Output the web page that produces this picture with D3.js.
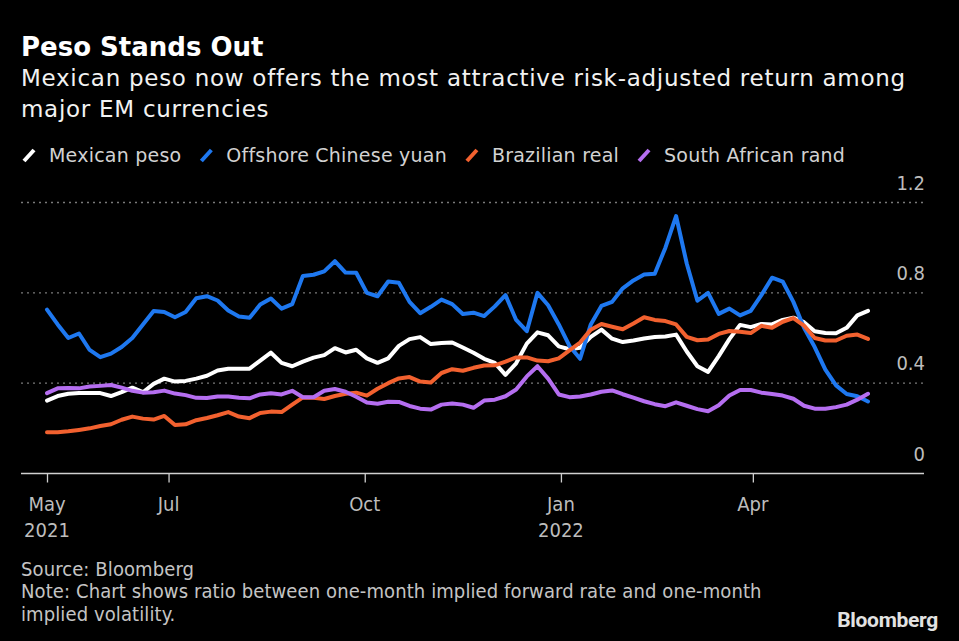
<!DOCTYPE html>
<html><head><meta charset="utf-8">
<script src="https://cdn.jsdelivr.net/npm/d3@7"></script>
<style>
html,body{margin:0;padding:0;background:#000;}
svg{display:block;}
.cond{font-family:"DejaVu Sans Condensed","DejaVu Sans",sans-serif;font-stretch:condensed;}
</style></head><body>
<svg id="chart" width="959" height="641"></svg>
<script>
const dates = ["2021-05-05","2021-05-10","2021-05-15","2021-05-20","2021-05-25","2021-05-30","2021-06-04","2021-06-09","2021-06-14","2021-06-19","2021-06-24","2021-06-29","2021-07-04","2021-07-09","2021-07-14","2021-07-19","2021-07-24","2021-07-29","2021-08-03","2021-08-08","2021-08-13","2021-08-18","2021-08-23","2021-08-28","2021-09-02","2021-09-07","2021-09-12","2021-09-17","2021-09-22","2021-09-27","2021-10-02","2021-10-07","2021-10-12","2021-10-17","2021-10-22","2021-10-27","2021-11-01","2021-11-06","2021-11-11","2021-11-16","2021-11-21","2021-11-26","2021-12-01","2021-12-06","2021-12-11","2021-12-16","2021-12-21","2021-12-26","2021-12-31","2022-01-05","2022-01-10","2022-01-15","2022-01-20","2022-01-25","2022-01-30","2022-02-04","2022-02-09","2022-02-14","2022-02-19","2022-02-24","2022-03-01","2022-03-06","2022-03-11","2022-03-16","2022-03-21","2022-03-26","2022-03-31","2022-04-05","2022-04-10","2022-04-15","2022-04-20","2022-04-25","2022-04-30","2022-05-05","2022-05-10","2022-05-15","2022-05-20","2022-05-25"];

const mexicanPeso = [0.323,0.343,0.353,0.356,0.356,0.356,0.343,0.36,0.38,0.36,
 0.397,0.42,0.407,0.41,0.42,0.433,0.456,0.464,0.464,0.464,
 0.50,0.535,0.49,0.475,0.495,0.513,0.524,0.555,0.536,0.548,
 0.51,0.49,0.51,0.565,0.595,0.604,0.573,0.578,0.58,0.558,
 0.535,0.508,0.49,0.437,0.488,0.575,0.625,0.612,0.563,0.55,
 0.557,0.605,0.637,0.597,0.582,0.589,0.598,0.604,0.607,0.615,
 0.54,0.475,0.45,0.52,0.595,0.658,0.648,0.662,0.66,0.68,
 0.69,0.67,0.63,0.622,0.621,0.645,0.70,0.72];

const offshoreChineseYuan = [0.726,0.66,0.60,0.62,0.547,0.515,0.531,0.56,0.60,0.66,
 0.72,0.715,0.692,0.715,0.776,0.785,0.766,0.722,0.695,0.69,
 0.748,0.775,0.73,0.75,0.875,0.88,0.895,0.94,0.89,0.889,
 0.80,0.785,0.85,0.845,0.76,0.71,0.738,0.77,0.75,0.706,
 0.712,0.697,0.74,0.79,0.68,0.63,0.80,0.745,0.66,0.565,
 0.508,0.66,0.742,0.76,0.82,0.855,0.881,0.885,1.00,1.14,
 0.93,0.765,0.80,0.707,0.73,0.70,0.72,0.79,0.867,0.85,
 0.76,0.645,0.56,0.46,0.39,0.352,0.342,0.319];

const brazilianReal = [0.183,0.183,0.187,0.193,0.200,0.210,0.218,0.238,0.252,0.243,
 0.239,0.255,0.215,0.218,0.236,0.246,0.258,0.272,0.252,0.245,
 0.268,0.274,0.272,0.305,0.337,0.335,0.33,0.343,0.353,0.358,
 0.345,0.375,0.40,0.421,0.427,0.407,0.403,0.445,0.462,0.455,
 0.468,0.478,0.479,0.495,0.514,0.514,0.50,0.497,0.51,0.545,
 0.58,0.637,0.662,0.65,0.639,0.664,0.692,0.68,0.675,0.66,
 0.605,0.59,0.593,0.618,0.631,0.628,0.622,0.654,0.645,0.672,
 0.688,0.655,0.60,0.589,0.589,0.61,0.615,0.596];

const southAfricanRand = [0.356,0.377,0.379,0.377,0.385,0.388,0.392,0.38,0.366,0.358,
 0.36,0.367,0.354,0.347,0.335,0.334,0.341,0.341,0.335,0.333,
 0.35,0.355,0.35,0.366,0.338,0.338,0.366,0.374,0.362,0.34,
 0.314,0.309,0.318,0.317,0.299,0.287,0.283,0.305,0.31,0.305,
 0.291,0.323,0.327,0.342,0.372,0.43,0.475,0.42,0.35,0.338,
 0.341,0.35,0.362,0.368,0.351,0.336,0.32,0.307,0.298,0.315,
 0.30,0.285,0.276,0.302,0.345,0.37,0.37,0.358,0.352,0.345,
 0.331,0.30,0.287,0.287,0.294,0.305,0.327,0.353];

const seriesNames = ["Mexican peso","Offshore Chinese yuan","Brazilian real","South African rand"];
const seriesColors = ["#ffffff","#1e78f0","#f2612f","#b56ef0"];
const yTicks = [0, 0.4, 0.8, 1.2];
const yTickLabels = ["0","0.4","0.8","1.2"];
const xTickDates = ["2021-05-05","2021-07-01","2021-10-01","2022-01-01","2022-04-01"];
const xTickMonths = ["May","Jul","Oct","Jan","Apr"];
const xTickYears = ["2021","","","2022",""];

const titleText = "Peso Stands Out";
const subtitleLines = ["Mexican peso now offers the most attractive risk-adjusted return among","major EM currencies"];
const footLines = ["Source: Bloomberg","Note: Chart shows ratio between one-month implied forward rate and one-month","implied volatility."];

const W = 959, H = 641;
const svg = d3.select("#chart");
svg.append("rect").attr("width", W).attr("height", H).attr("fill", "#000");

const parse = d3.utcParse("%Y-%m-%d");
const xDates = dates.map(parse);
const x = d3.scaleUtc().domain([xDates[0], xDates[xDates.length - 1]]).range([47, 868]);
const y = d3.scaleLinear().domain([0, 1.2]).range([473.5, 202.5]);
const plotL = 21, plotR = 924;

// Title + subtitle
svg.append("text").attr("x", 21).attr("y", 56)
  .attr("font-family", "DejaVu Sans, sans-serif").attr("font-weight", "bold")
  .attr("font-size", 26).attr("fill", "#ffffff").text(titleText);
subtitleLines.forEach((t, i) => {
  svg.append("text").attr("x", 21).attr("y", 86 + i * 31)
    .attr("font-family", "DejaVu Sans, sans-serif").attr("font-size", 23)
    .attr("letter-spacing", 0.72)
    .attr("fill", "#f2f2f2").text(t);
});

// Legend
let lx = 22;
seriesNames.forEach((name, i) => {
  const g = svg.append("g");
  g.append("line").attr("x1", lx + 2).attr("y1", 161).attr("x2", lx + 12).attr("y2", 150)
    .attr("stroke", seriesColors[i]).attr("stroke-width", 4);
  const t = g.append("text").attr("x", lx + 27).attr("y", 162)
    .attr("font-family", "DejaVu Sans, sans-serif").attr("font-size", 19)
    .attr("letter-spacing", 0.22)
    .attr("fill", "#d2d2d2").text(name);
  lx = lx + 27 + t.node().getComputedTextLength() + 18;
});

// Gridlines
svg.append("g").selectAll("line").data(yTicks.filter(v => v > 0)).join("line")
  .attr("x1", plotL).attr("x2", plotR)
  .attr("y1", d => y(d)).attr("y2", d => y(d))
  .attr("stroke", "#7a7a7a").attr("stroke-width", 1.3).attr("stroke-dasharray", "2,4");

// Y labels
svg.append("g").selectAll("text").data(yTicks).join("text")
  .attr("class", "cond")
  .attr("x", 925).attr("y", d => y(d) - 13)
  .attr("text-anchor", "end").attr("font-size", 20).attr("fill", "#bdbdbd")
  .text((d, i) => yTickLabels[i]);

// X axis
const tickDates = xTickDates.map(parse);
const xAxis = d3.axisBottom(x).tickValues(tickDates).tickSize(9).tickFormat("");
const axG = svg.append("g").attr("transform", `translate(0,${y(0)})`).call(xAxis);
axG.select(".domain").remove();
axG.selectAll(".tick line").attr("stroke", "#cfcfcf").attr("stroke-width", 1.3);
svg.append("line").attr("x1", plotL).attr("x2", plotR).attr("y1", y(0)).attr("y2", y(0))
  .attr("stroke", "#d0d0d0").attr("stroke-width", 1.5);
tickDates.forEach((d, i) => {
  svg.append("text").attr("class", "cond").attr("x", x(d)).attr("y", 511)
    .attr("text-anchor", "middle").attr("font-size", 20).attr("fill", "#bdbdbd").text(xTickMonths[i]);
  if (xTickYears[i]) {
    svg.append("text").attr("class", "cond").attr("x", x(d)).attr("y", 537)
      .attr("text-anchor", "middle").attr("font-size", 20).attr("fill", "#bdbdbd").text(xTickYears[i]);
  }
});

// Lines
const allSeries = [mexicanPeso, offshoreChineseYuan, brazilianReal, southAfricanRand];
const line = d3.line().x(d => x(d.date)).y(d => y(d.v));
allSeries.forEach((vals, i) => {
  const pts = vals.map((v, j) => ({ date: xDates[j], v }));
  svg.append("path").datum(pts).attr("d", line)
    .attr("fill", "none").attr("stroke", seriesColors[i]).attr("stroke-width", 4)
    .attr("stroke-linejoin", "round").attr("stroke-linecap", "round");
});

// Footer
footLines.forEach((t, i) => {
  svg.append("text").attr("class", "cond").attr("x", 21).attr("y", 576 + i * 22.3)
    .attr("font-size", 20).attr("letter-spacing", 0.1).attr("fill", "#c4c4c4").text(t);
});
svg.append("text").attr("x", 938).attr("y", 627).attr("text-anchor", "end")
  .attr("font-family", "Roboto, sans-serif").attr("font-weight", "bold")
  .attr("font-size", 21).attr("letter-spacing", -0.3).attr("fill", "#e2e2e2").text("Bloomberg");
</script>
</body></html>
